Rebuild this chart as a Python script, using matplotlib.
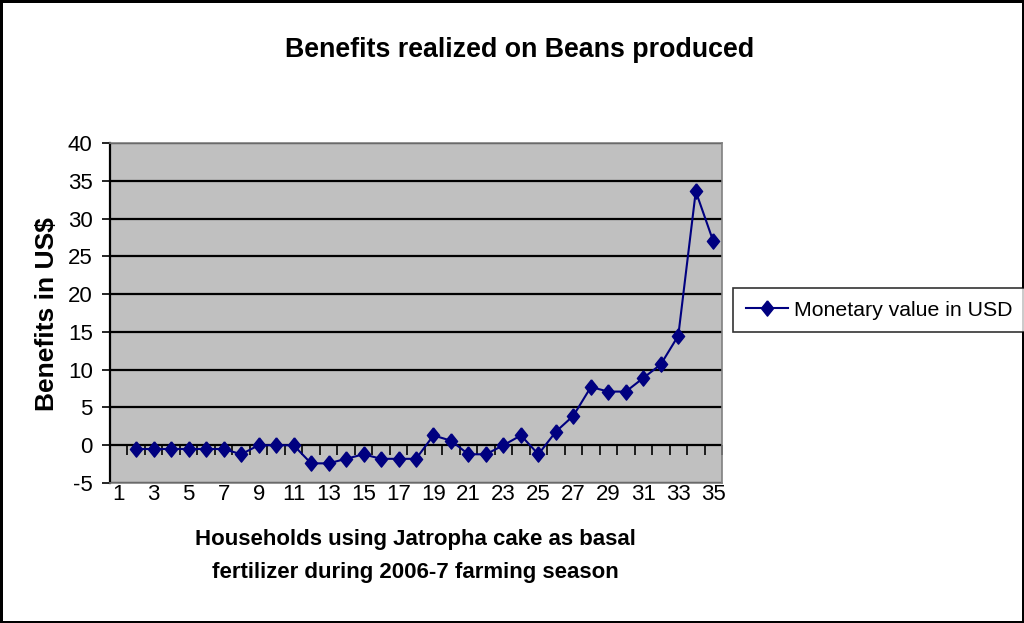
import numpy as np
import matplotlib
matplotlib.use("Agg")
import matplotlib.pyplot as plt

households = list(range(1, 36))
benefits = [np.nan, -0.5, -0.5, -0.5, -0.5, -0.5, -0.5, -1.2, 0.0, 0.0,
            0.0, -2.4, -2.4, -1.8, -1.2, -1.8, -1.8, -1.8, 1.3, 0.6,
            -1.2, -1.2, 0.0, 1.3, -1.2, 1.8, 3.9, 7.7, 7.1, 7.1,
            8.9, 10.7, 14.5, 33.6, 27.0]
tick_labels = [str(h) for h in households[::2]]
y_ticks = list(range(-5, 45, 5))
series_name = "Monetary value in USD"
title = "Benefits realized on Beans produced"
ylabel = "Benefits in US$"
xlabel = "Households using Jatropha cake as basal\nfertilizer during 2006-7 farming season"

FAM = ["Liberation Sans", "DejaVu Sans"]
plt.rcParams["font.family"] = FAM
plt.rcParams["axes.unicode_minus"] = False

fig = plt.figure(figsize=(10.24, 6.23), dpi=100)
fig.patch.set_facecolor("white")
fig.patch.set_edgecolor("black")
fig.patch.set_linewidth(2.5)

ax = fig.add_axes([110/1024, 140/623, 612/1024, 340/623])
ax.set_facecolor("#C0C0C0")
ax.set_xlim(0.5, 35.5)
ax.set_ylim(-5, 40)

ax.set_yticks(y_ticks)
ax.yaxis.grid(True, color="black", linewidth=1.6)
ax.set_axisbelow(True)
ax.tick_params(axis="y", direction="out", length=5.5, width=1.2, labelsize=16, pad=7)

ax.set_xticks(households[::2])
ax.set_xticklabels(tick_labels)
ax.tick_params(axis="x", length=0, labelsize=16, pad=1)

for s in ["top", "right", "bottom"]:
    ax.spines[s].set_color("#808080")
    ax.spines[s].set_linewidth(1.2)
ax.spines["left"].set_color("black")
ax.spines["left"].set_linewidth(1.6)

# category tick marks on the zero line
sec = ax.secondary_xaxis(0, transform=ax.transData)
sec.set_xticks(np.arange(0.5, 36, 1.0))
sec.set_xticklabels([])
sec.tick_params(direction="out", length=7.5, width=1.2, color="black")
sec.spines["bottom"].set_visible(False)

diamond = [(0, 1), (0.8, 0), (0, -1), (-0.8, 0), (0, 1)]
line, = ax.plot(households, benefits, color="#000080", linewidth=1.5,
                marker=diamond, markersize=11, markerfacecolor="#000080",
                markeredgecolor="#000080", label=series_name, zorder=5)

fig.text(520/1024, 1 - 50/623, title, ha="center", va="center",
         fontsize=19.3, fontweight="bold")
fig.text(47/1024, 1 - 314/623, ylabel, ha="center", va="center",
         rotation=90, fontsize=19, fontweight="bold")
fig.text(415/1024, 1 - 556/623, xlabel, ha="center", va="center",
         fontsize=16, fontweight="bold", linespacing=1.75)

leg = fig.legend(handles=[line], loc="center", bbox_to_anchor=(879/1024, 1 - 310/623),
                 fontsize=15.3, frameon=True, fancybox=False, shadow=False,
                 handlelength=2.0, handletextpad=0.25, borderpad=0.6, borderaxespad=0)
leg.get_frame().set_edgecolor("black")
leg.get_frame().set_linewidth(1.2)

fig.savefig("out.png", dpi=100)
